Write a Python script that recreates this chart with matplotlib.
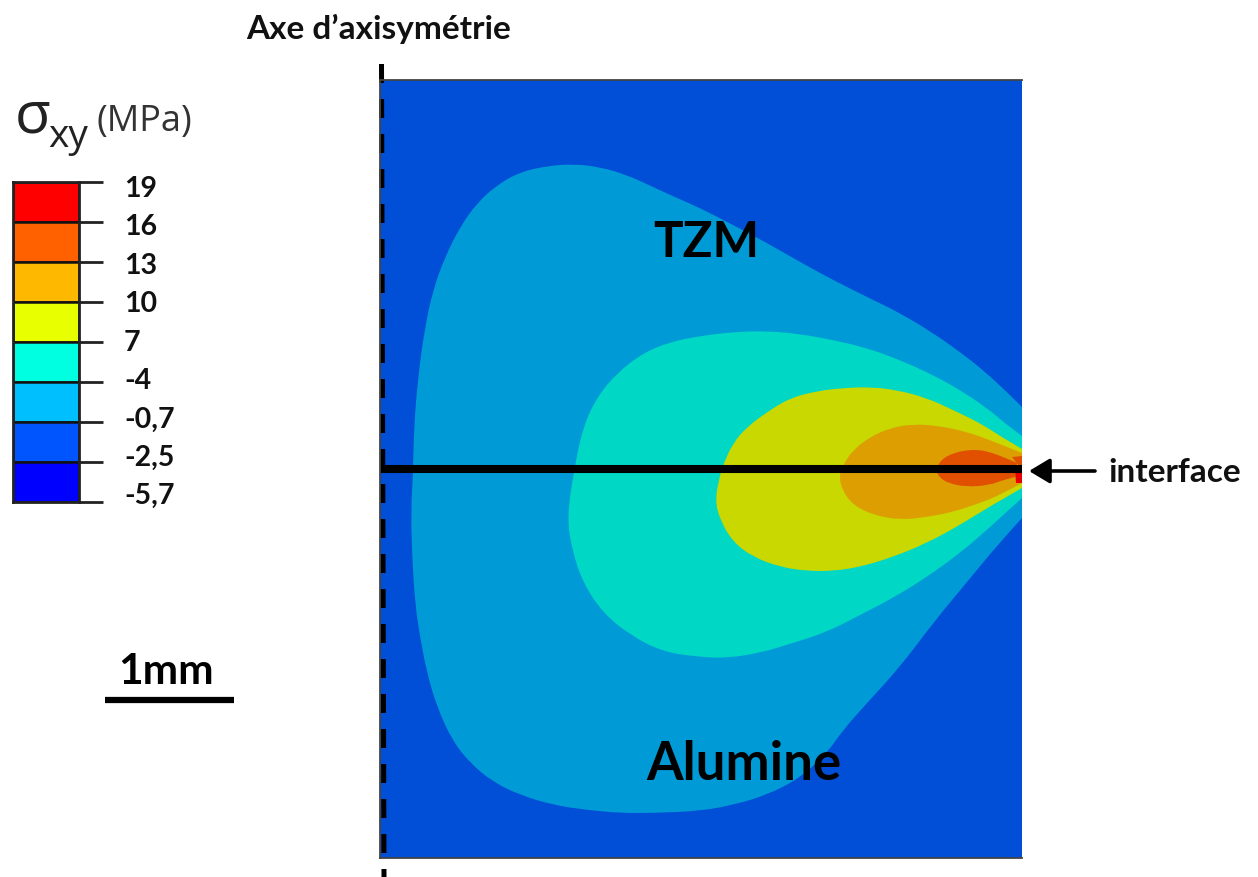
import matplotlib
matplotlib.use('Agg')
import matplotlib.pyplot as plt
from matplotlib.path import Path
from matplotlib.patches import PathPatch, FancyArrowPatch

W, H = 1258, 877

# colour scale, top to bottom
level_labels = ['19', '16', '13', '10', '7', '-4', '-0,7', '-2,5', '-5,7']
scale_colors = ['#ff0000', '#ff6000', '#ffb800', '#e8ff00', '#00ffe0',
                '#00bfff', '#0055ff', '#0000ff']

# zones, in image pixel coordinates
zone_blue_x = [1022, 1007, 983, 960, 933, 900, 867, 833, 800, 767, 733, 700, 677, 653, 627, 600, 573, 547, 520, 497, 477,
               460, 445, 433, 425, 418, 414, 413, 411, 412, 415, 420, 427, 437, 452, 470, 493, 520, 553, 587, 620, 653,
               700, 733, 767, 800, 827, 843, 867, 900, 933, 967, 1000, 1022]
zone_blue_y = [407, 392, 370, 352, 333, 313, 297, 280, 262, 243, 225, 208, 198, 187, 175, 167, 164, 166, 172, 185, 203,
               227, 257, 290, 327, 377, 427, 475, 510, 553, 603, 637, 673, 707, 740, 763, 782, 795, 805, 810, 813, 813,
               811, 805, 795, 778, 753, 730, 703, 667, 623, 582, 542, 518]

zone_cyan_x = [1022, 1007, 987, 960, 933, 900, 867, 833, 800, 767, 733, 700, 670, 643, 617, 597, 583, 574, 567, 572, 583,
               603, 630, 663, 700, 727, 760, 793, 827, 860, 893, 927, 960, 987, 1022]
zone_cyan_y = [436, 425, 408, 390, 375, 360, 348, 340, 334, 331, 332, 336, 342, 353, 373, 397, 427, 470, 517, 550, 583,
               613, 635, 652, 657, 658, 653, 643, 632, 615, 598, 577, 553, 530, 498]

zone_yellow_x = [1022, 1000, 980, 953, 927, 897, 870, 843, 817, 790, 767, 747, 733, 723, 720, 715, 720, 733, 753, 780, 807,
                 833, 860, 893, 927, 960, 987, 1022]
zone_yellow_y = [449, 436, 423, 410, 398, 390, 387, 388, 391, 398, 412, 427, 443, 465, 475, 500, 520, 542, 557, 567, 571,
                 571, 567, 557, 543, 525, 508, 488]

zone_orange_x = [1022, 990, 967, 940, 913, 890, 870, 853, 843, 839, 842, 853, 873, 900, 927, 953, 980, 1000, 1022]
zone_orange_y = [453, 440, 432, 426, 424, 428, 437, 450, 465, 475, 490, 505, 515, 520, 517, 512, 503, 495, 483]

zone_hot_x = [1017, 993, 970, 947, 937, 937, 947, 967, 990, 1003, 1015]
zone_hot_y = [463, 452, 449, 455, 465, 475, 483, 487, 485, 480, 477]

zone_tip_x = [1012, 1022, 1022, 1019]
zone_tip_y = [457, 456, 466, 466]

zone_red_x = [1015, 1022, 1022, 1016]
zone_red_y = [470, 470, 483, 483]

zones = [
    (zone_blue_x, zone_blue_y, '#009bd7'),
    (zone_cyan_x, zone_cyan_y, '#00d7c4'),
    (zone_yellow_x, zone_yellow_y, '#c8d800'),
    (zone_orange_x, zone_orange_y, '#dc9e00'),
    (zone_hot_x, zone_hot_y, '#e05000'),
]


def box(left, top, right, bottom):
    return [left / W, 1 - bottom / H, (right - left) / W, (bottom - top) / H]


def put(x, y, s, **kw):
    fig.text(x / W, 1 - y / H, s, **kw)


def smooth_zone(xs, ys):
    pts = list(zip(xs, ys))
    verts = [pts[0]]
    codes = [Path.MOVETO]
    for i in range(1, len(pts) - 1):
        nxt = pts[i + 1]
        if i < len(pts) - 2:
            nxt = ((pts[i][0] + nxt[0]) / 2, (pts[i][1] + nxt[1]) / 2)
        verts += [pts[i], nxt]
        codes += [Path.CURVE3, Path.CURVE3]
    verts.append(pts[0])
    codes.append(Path.CLOSEPOLY)
    return Path(verts, codes)


plt.rcParams['font.family'] = ['Lato', 'DejaVu Sans']
fig = plt.figure(figsize=(W / 100, H / 100), dpi=100)

# main panel
ax = fig.add_axes(box(380, 80, 1022, 858))
ax.set_facecolor('#004fd6')
ax.set_xlim(380, 1022)
ax.set_ylim(858, 80)
ax.set_xticks([])
ax.set_yticks([])
for name, sp in ax.spines.items():
    sp.set_linewidth(1.3)
    sp.set_color('#444444')
ax.spines['right'].set_visible(False)

for zx, zy, c in zones:
    ax.add_patch(PathPatch(smooth_zone(zx, zy), facecolor=c, lw=0))
ax.fill(zone_tip_x, zone_tip_y, color='#e05000', lw=0)
ax.fill(zone_red_x, zone_red_y, color='#eb0000', lw=0)

ax.plot([380, 1022], [469, 469], color='black', lw=5.8, solid_capstyle='butt')
ax.plot([381.5, 384], [64, 877], color='black', lw=3.6, clip_on=False,
        dashes=(3.8, 3.2), dash_capstyle='butt')

# colour scale
cb = fig.add_axes(box(13, 182, 79, 502))
cb.set_xlim(0, 1)
cb.set_ylim(len(scale_colors), 0)
for i, c in enumerate(scale_colors):
    cb.barh(i + 0.5, 1, height=1, color=c, edgecolor='#111111', lw=1.8)
cb.set_xticks([])
cb.yaxis.tick_right()
cb.set_yticks(range(len(level_labels)))
cb.set_yticklabels([])
cb.tick_params(axis='y', length=17, width=2, color='#222222')
for sp in cb.spines.values():
    sp.set_linewidth(2)
    sp.set_color('#222222')
for i, lab in enumerate(level_labels):
    put(124, 189 + i * 38.4, lab, fontsize=20.5, fontweight='bold', va='center', color='#111111')

put(15, 117, 'σ', fontsize=42, family=['Open Sans', 'DejaVu Sans'], va='center', color='#222222')
put(48, 137, 'xy', fontsize=28, family=['Open Sans', 'DejaVu Sans'], va='center', color='#222222')
put(97, 122, '(MPa)', fontsize=26, family=['Open Sans', 'DejaVu Sans'], va='center', color='#333333')

put(246, 29, 'Axe d’axisymétrie', fontsize=24, fontweight='bold', va='center', color='#111111')
put(653, 243, 'TZM', fontsize=35.5, fontweight='bold', va='center', color='black')
put(646, 764, 'Alumine', fontsize=38, fontweight='bold', va='center', color='black')
put(118, 672, '1mm', fontsize=30.5, fontweight='bold', va='center', color='black')
put(1108, 473, 'interface', fontsize=24, fontweight='bold', va='center', color='#111111')

# scale bar and interface arrow
fig.add_artist(plt.Line2D([105 / W, 234 / W], [1 - 700 / H, 1 - 700 / H], color='black', lw=4.5,
                          solid_capstyle='butt'))
fig.add_artist(FancyArrowPatch(
    (1095 / W, 1 - 471 / H), (1029 / W, 1 - 471 / H), transform=fig.transFigure,
    arrowstyle='-|>,head_length=0.7,head_width=0.42', mutation_scale=18, color='black', lw=2.6,
    shrinkA=0, shrinkB=0))

fig.savefig('out.png', dpi=100)
